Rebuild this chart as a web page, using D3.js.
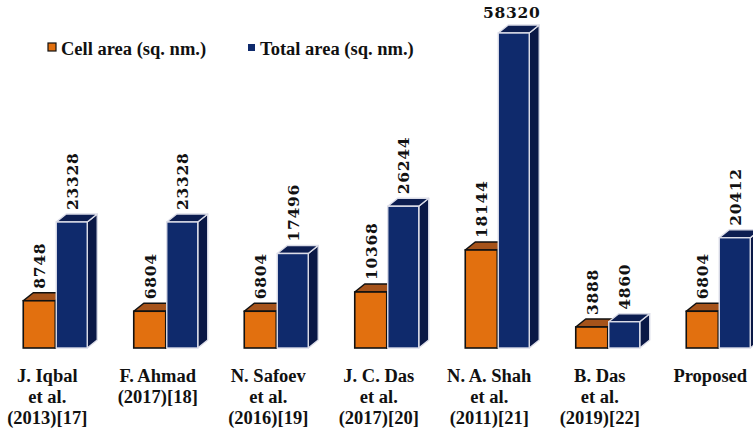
<!DOCTYPE html>
<html>
<head>
<meta charset="utf-8">
<script src="https://cdn.jsdelivr.net/npm/d3@7"></script>
<style>
  html, body { margin: 0; padding: 0; background: #fff; }
  svg { display: block; }
</style>
</head>
<body>
<svg id="chart" width="753" height="432"></svg>
<script>
// Categories (one entry per multi-line axis label)
const categories = [
  ["J. Iqbal", "et al.", "(2013)[17]"],
  ["F. Ahmad", "(2017)[18]"],
  ["N. Safoev", "et al.", "(2016)[19]"],
  ["J. C. Das", "et al.", "(2017)[20]"],
  ["N. A. Shah", "et al.", "(2011)[21]"],
  ["B. Das", "et al.", "(2019)[22]"],
  ["Proposed"]
];
const cellArea  = [8748, 6804, 6804, 10368, 18144, 3888, 6804];
const totalArea = [23328, 23328, 17496, 26244, 58320, 4860, 20412];
const seriesNames = ["Cell area (sq. nm.)", "Total area (sq. nm.)"];

const W = 753, H = 432;
const svg = d3.select("#chart");

const keys = categories.map((c, i) => "c" + i);
const x = d3.scaleBand().domain(keys).range([-8, 765.5]);
const y = d3.scaleLinear().domain([0, 58320]).range([348, 33]);

// 3D extrusion offset
const DX = 10, DY = -8;

const styles = [
  { front: "#e2700f", top: "#a6531a", side: "#8a4312", stroke: "#111", sw: 1.6 },
  { front: "#0f2a6c", top: "#0c1d50", side: "#0a1846", stroke: "#dcdde8", sw: 1.4 }
];

const LABEL_FONT = "'DejaVu Serif', serif";
const TEXT_FONT = "'Liberation Serif', 'Times New Roman', serif";
const LABEL_SIZE = 15.5, LABEL_SPACING = 0.7;

function drawBar(g, x0, w, v, st) {
  const y0 = y(0), y1 = y(v);
  // side face
  g.append("path")
    .attr("d", `M${x0 + w},${y1} L${x0 + w + DX},${y1 + DY} L${x0 + w + DX},${y0 + DY} L${x0 + w},${y0} Z`)
    .attr("fill", st.side).attr("stroke", st.stroke).attr("stroke-width", st.sw)
    .attr("stroke-linejoin", "round");
  // top face
  g.append("path")
    .attr("d", `M${x0},${y1} L${x0 + DX},${y1 + DY} L${x0 + w + DX},${y1 + DY} L${x0 + w},${y1} Z`)
    .attr("fill", st.top).attr("stroke", st.stroke).attr("stroke-width", st.sw)
    .attr("stroke-linejoin", "round");
  // front face
  g.append("rect")
    .attr("x", x0).attr("y", y1).attr("width", w).attr("height", y0 - y1)
    .attr("fill", st.front).attr("stroke", st.stroke).attr("stroke-width", st.sw);
}

function drawValue(g, cx, v) {
  const yTop = y(v);
  const txt = String(v);
  const approxLen = txt.length * 11.5;
  if (yTop - 12 - approxLen < 0) {
    // not enough room above: horizontal label
    g.append("text")
      .attr("x", cx - 2).attr("y", yTop + DY - 7)
      .attr("text-anchor", "middle")
      .attr("font-family", LABEL_FONT).attr("font-weight", "bold")
      .attr("font-size", LABEL_SIZE).attr("letter-spacing", LABEL_SPACING).attr("fill", "#111")
      .text(txt);
  } else {
    g.append("text")
      .attr("transform", `translate(${cx + 6},${yTop - 12}) rotate(-90)`)
      .attr("text-anchor", "start")
      .attr("font-family", LABEL_FONT).attr("font-weight", "bold")
      .attr("font-size", LABEL_SIZE).attr("letter-spacing", LABEL_SPACING).attr("fill", "#111")
      .text(txt);
  }
}

const groups = svg.append("g");
keys.forEach((k, i) => {
  const c = x(k) + x.bandwidth() / 2;
  const g = groups.append("g");
  const ox = c - 24, ow = 32;
  const bx = c + 9, bw = 31;
  drawBar(g, ox, ow, cellArea[i], styles[0]);
  drawBar(g, bx, bw, totalArea[i], styles[1]);
  drawValue(g, ox + ow / 2, cellArea[i]);
  drawValue(g, bx + bw / 2, totalArea[i]);
});

// Category axis labels
const xAxis = d3.axisBottom(x).tickSize(0).tickFormat(() => "");
const axisG = svg.append("g").attr("transform", "translate(0,348)").call(xAxis);
axisG.select(".domain").remove();
axisG.selectAll(".tick").each(function (k, i) {
  const t = d3.select(this).append("text")
    .attr("text-anchor", "middle")
    .attr("font-family", TEXT_FONT).attr("font-weight", "bold")
    .attr("font-size", 18.5).attr("fill", "#111");
  categories[i].forEach((line, j) => {
    t.append("tspan").attr("x", 0).attr("y", 34 + j * 21).text(line);
  });
});

// Legend
const legend = svg.append("g").attr("font-family", TEXT_FONT)
  .attr("font-weight", "bold").attr("font-size", 18.5).attr("fill", "#111");
const legendItems = [
  { x: 48, sq: 8, st: styles[0], border: "#111" },
  { x: 248, sq: 7, st: styles[1], border: "none" }
];
legendItems.forEach((it, i) => {
  legend.append("rect")
    .attr("x", it.x).attr("y", 51 - it.sq).attr("width", it.sq).attr("height", it.sq)
    .attr("fill", it.st.front).attr("stroke", it.border).attr("stroke-width", 1.2);
  legend.append("text").attr("x", it.x + it.sq + 5).attr("y", 55).text(seriesNames[i]);
});
</script>
</body>
</html>
